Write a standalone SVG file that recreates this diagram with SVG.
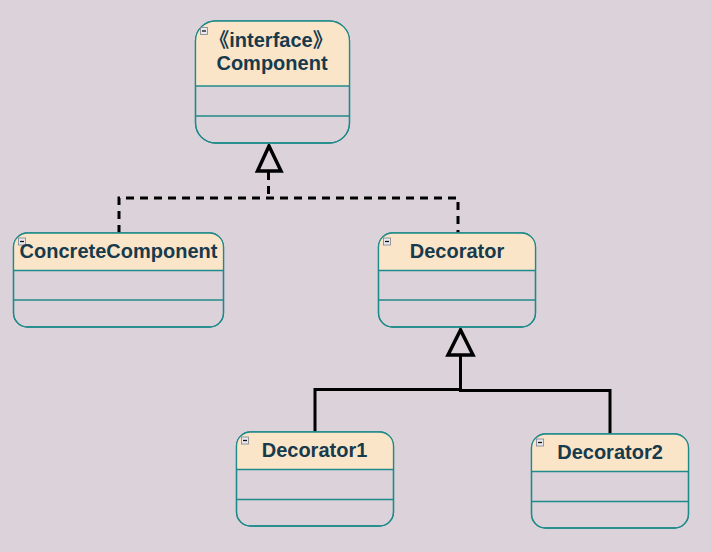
<svg xmlns="http://www.w3.org/2000/svg" width="711" height="552" viewBox="0 0 711 552">
<defs>
<style>
.box{fill:#dbd2da;stroke:#1f8a8a;stroke-width:1.3}
.hdr{fill:#fbe5c8}
.div{stroke:#1f8a8a;stroke-width:1.3}
.name{font-family:"Liberation Sans",Arial,sans-serif;font-weight:bold;font-size:20px;fill:#173a4c;text-anchor:middle}
.stereo{font-family:"Liberation Sans","Noto Sans CJK SC",sans-serif;font-weight:bold;font-size:20px;fill:#173a4c;text-anchor:middle}
.ico{fill:#e8e8ee;stroke:#7a8090;stroke-width:0.8}
.icm{stroke:#111;stroke-width:1.3}
.solid{fill:none;stroke:#000;stroke-width:3}
.dash{fill:none;stroke:#000;stroke-width:3;stroke-dasharray:8 6}
.tri{fill:none;stroke:#000;stroke-width:3.5;stroke-linejoin:miter}
</style>
<clipPath id="c1"><rect x="195.5" y="21" width="154" height="122" rx="20"/></clipPath>
<clipPath id="c2"><rect x="13.5" y="233" width="210" height="94" rx="14"/></clipPath>
<clipPath id="c3"><rect x="378.5" y="233" width="157" height="94" rx="14"/></clipPath>
<clipPath id="c4"><rect x="236.5" y="432" width="157" height="94" rx="14"/></clipPath>
<clipPath id="c5"><rect x="531.5" y="434" width="157" height="94" rx="14"/></clipPath>
</defs>
<rect width="711" height="552" fill="#dbd2da"/>

<g id="connectors">
<path class="dash" d="M268.5,172 V198 M119,233 V198 H458 V233"/>
<polygon class="tri" points="269,146 257.5,171 281,171"/>
<path class="solid" d="M315,432 V389.5 H460.5 V390.5 H610 V434 M460.5,390 V355"/>
<polygon class="tri" points="460.5,330 448,355 473,355"/>
</g>

<g id="component">
<rect class="box" x="195.5" y="21" width="154" height="122" rx="20"/>
<rect class="hdr" x="195.5" y="21" width="154" height="65" clip-path="url(#c1)"/>
<rect x="195.5" y="21" width="154" height="122" rx="20" fill="none" stroke="#1f8a8a" stroke-width="1.3"/>
<line class="div" x1="195.5" y1="86" x2="349.5" y2="86"/>
<line class="div" x1="195.5" y1="116" x2="349.5" y2="116"/>
<rect class="ico" x="200.5" y="27.5" width="7" height="7"/>
<line class="icm" x1="202" y1="31" x2="206" y2="31"/>
<text class="stereo" x="271" y="47">《interface》</text>
<text class="name" x="272" y="70">Component</text>
</g>

<g id="concretecomponent">
<rect class="box" x="13.5" y="233" width="210" height="94" rx="14"/>
<rect class="hdr" x="13.5" y="233" width="210" height="37" clip-path="url(#c2)"/>
<rect x="13.5" y="233" width="210" height="94" rx="14" fill="none" stroke="#1f8a8a" stroke-width="1.3"/>
<line class="div" x1="13.5" y1="270.5" x2="223.5" y2="270.5"/>
<line class="div" x1="13.5" y1="300" x2="223.5" y2="300"/>
<rect class="ico" x="18.5" y="238" width="7" height="7"/>
<line class="icm" x1="20" y1="241.5" x2="24" y2="241.5"/>
<text class="name" x="118.5" y="258">ConcreteComponent</text>
</g>

<g id="decorator">
<rect class="box" x="378.5" y="233" width="157" height="94" rx="14"/>
<rect class="hdr" x="378.5" y="233" width="157" height="37" clip-path="url(#c3)"/>
<rect x="378.5" y="233" width="157" height="94" rx="14" fill="none" stroke="#1f8a8a" stroke-width="1.3"/>
<line class="div" x1="378.5" y1="270.5" x2="535.5" y2="270.5"/>
<line class="div" x1="378.5" y1="300" x2="535.5" y2="300"/>
<rect class="ico" x="383.5" y="238" width="7" height="7"/>
<line class="icm" x1="385" y1="241.5" x2="389" y2="241.5"/>
<text class="name" x="457" y="258">Decorator</text>
</g>

<g id="decorator1">
<rect class="box" x="236.5" y="432" width="157" height="94" rx="14"/>
<rect class="hdr" x="236.5" y="432" width="157" height="37" clip-path="url(#c4)"/>
<rect x="236.5" y="432" width="157" height="94" rx="14" fill="none" stroke="#1f8a8a" stroke-width="1.3"/>
<line class="div" x1="236.5" y1="469.5" x2="393.5" y2="469.5"/>
<line class="div" x1="236.5" y1="499.5" x2="393.5" y2="499.5"/>
<rect class="ico" x="241.5" y="437" width="7" height="7"/>
<line class="icm" x1="243" y1="440.5" x2="247" y2="440.5"/>
<text class="name" x="314.5" y="457">Decorator1</text>
</g>

<g id="decorator2">
<rect class="box" x="531.5" y="434" width="157" height="94" rx="14"/>
<rect class="hdr" x="531.5" y="434" width="157" height="37" clip-path="url(#c5)"/>
<rect x="531.5" y="434" width="157" height="94" rx="14" fill="none" stroke="#1f8a8a" stroke-width="1.3"/>
<line class="div" x1="531.5" y1="471.5" x2="688.5" y2="471.5"/>
<line class="div" x1="531.5" y1="501.5" x2="688.5" y2="501.5"/>
<rect class="ico" x="536.5" y="439" width="7" height="7"/>
<line class="icm" x1="538" y1="442.5" x2="542" y2="442.5"/>
<text class="name" x="610" y="459">Decorator2</text>
</g>
</svg>
